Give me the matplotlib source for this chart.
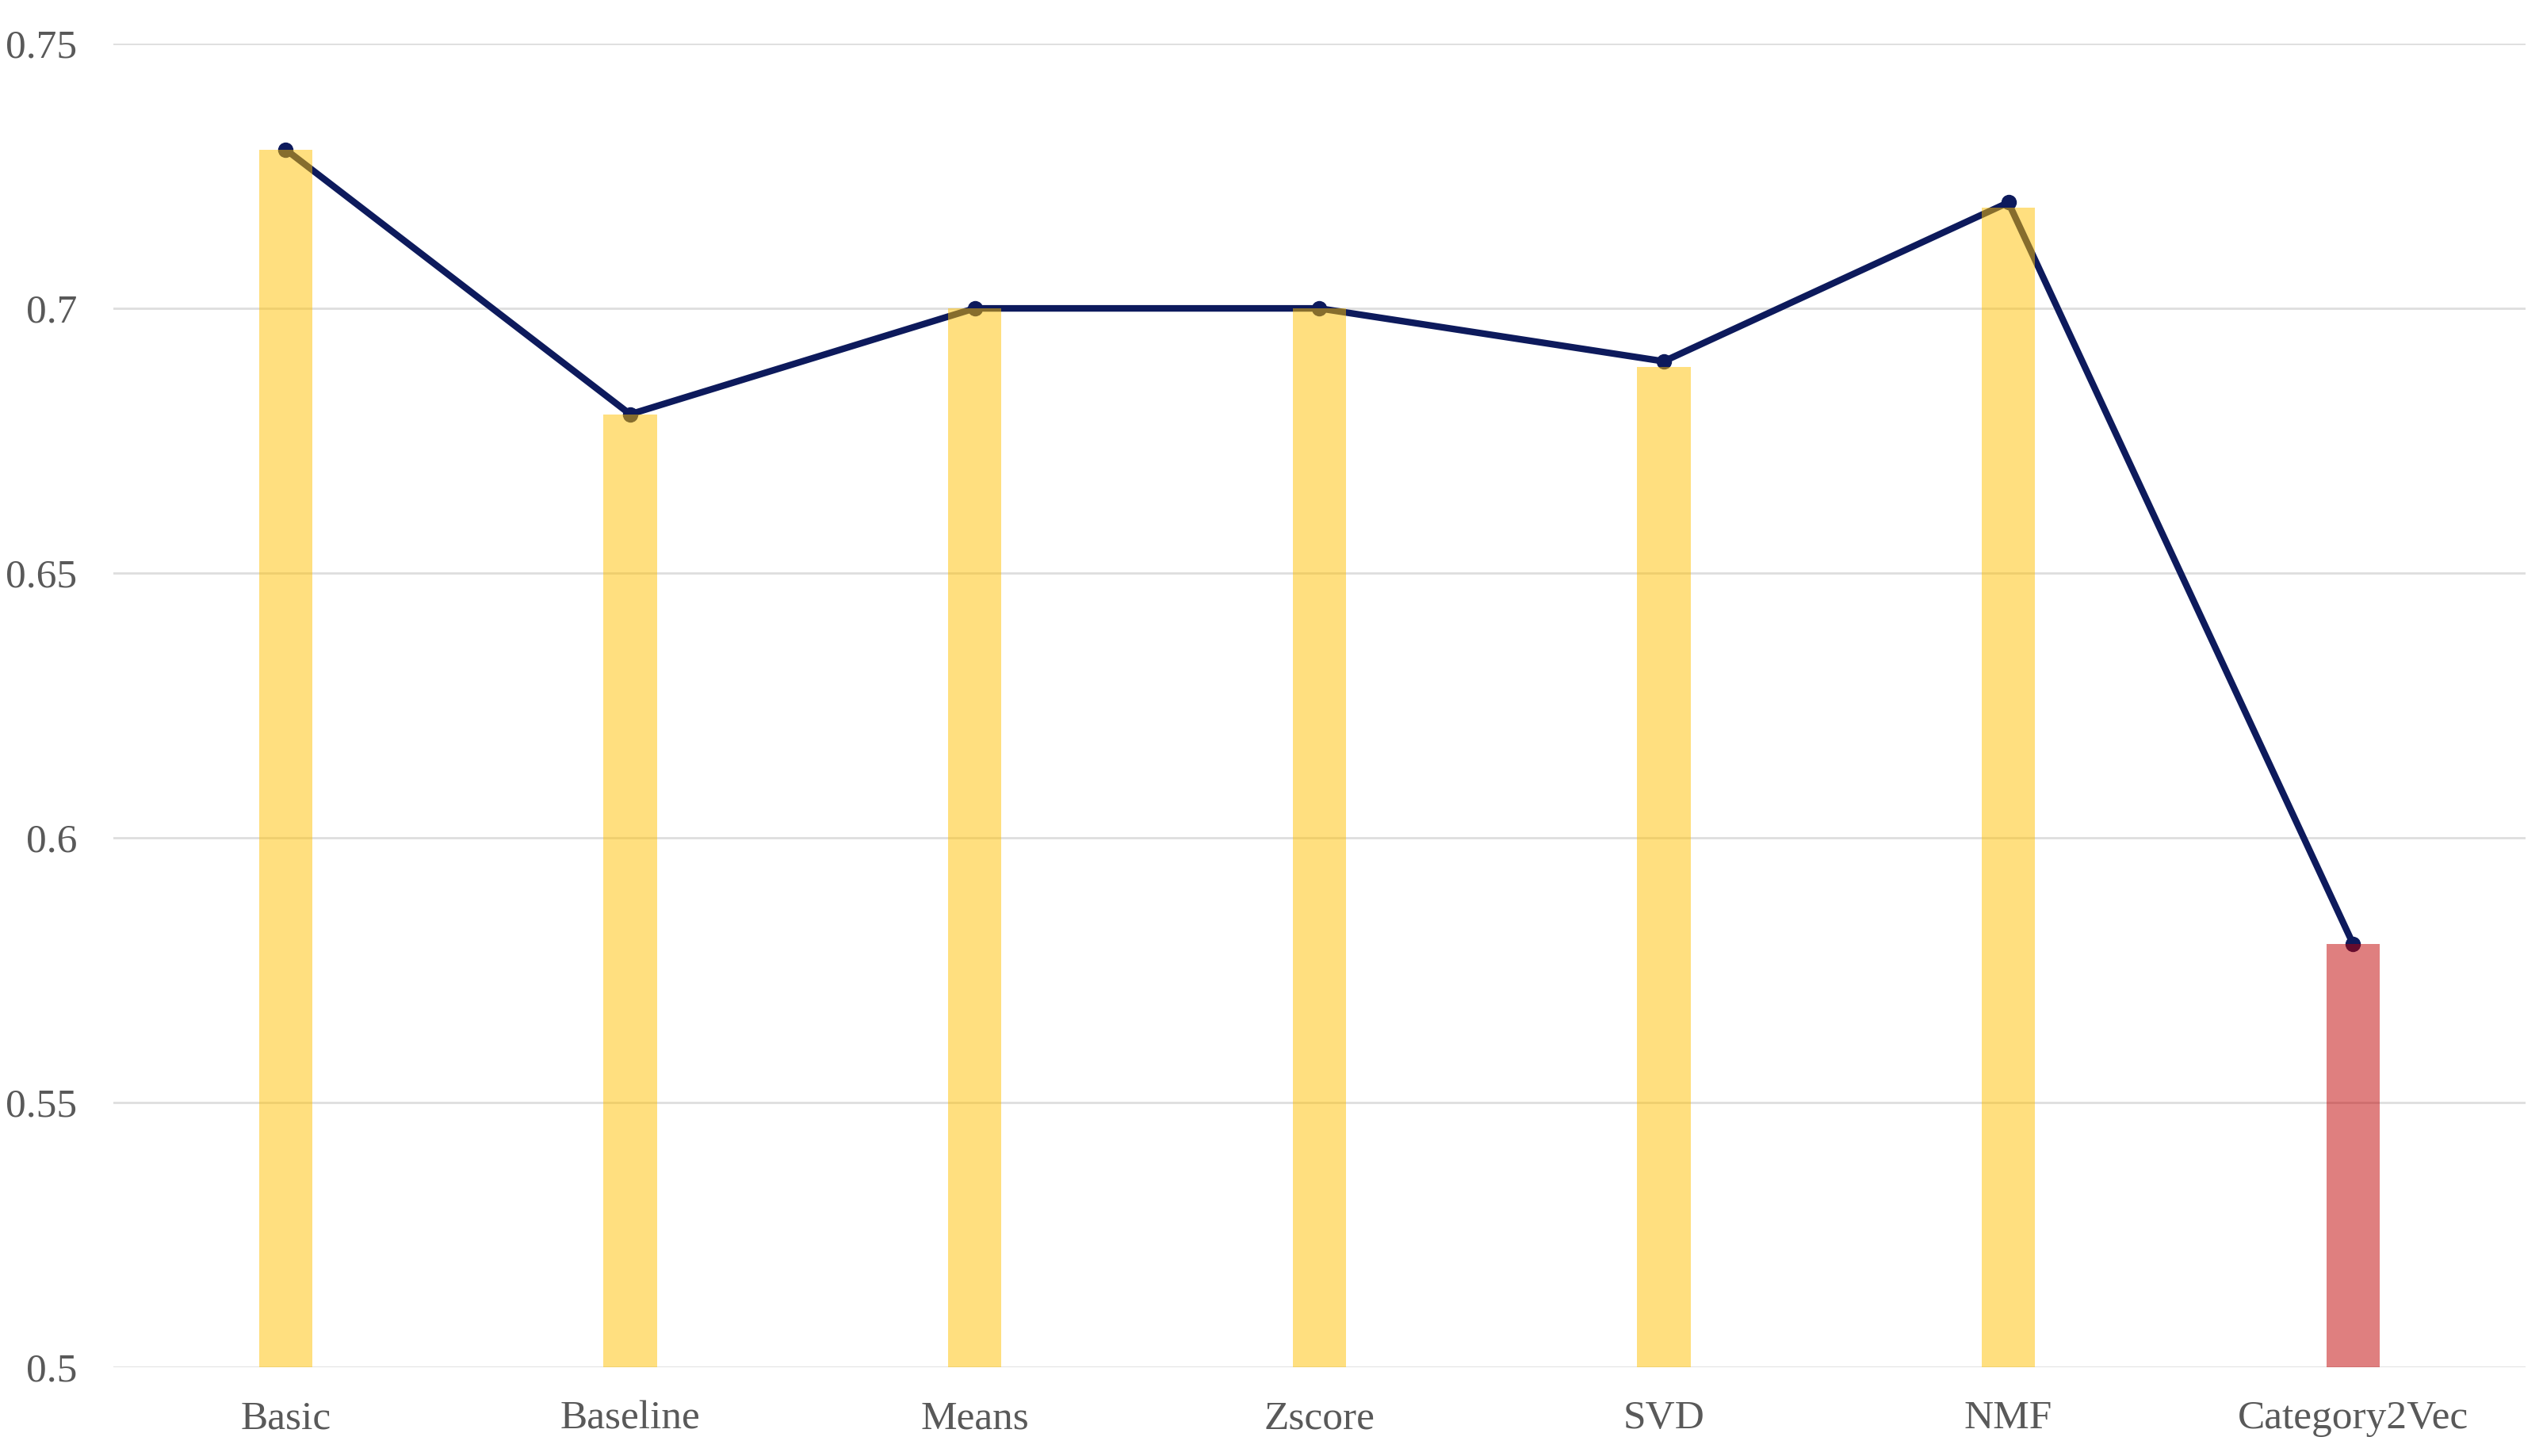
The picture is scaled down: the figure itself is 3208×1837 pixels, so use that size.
import matplotlib
matplotlib.use("Agg")
import matplotlib.pyplot as plt

categories = ["Basic", "Baseline", "Means", "Zscore", "SVD", "NMF", "Category2Vec"]
bar_values = [0.73, 0.68, 0.70, 0.70, 0.689, 0.719, 0.58]
line_values = [0.73, 0.68, 0.70, 0.70, 0.69, 0.72, 0.58]
bar_colors = ["#FFC000"] * 6 + ["#C00000"]
yticks = [0.5, 0.55, 0.6, 0.65, 0.7, 0.75]
ytick_labels = ["0.5", "0.55", "0.6", "0.65", "0.7", "0.75"]

plt.rcParams["font.family"] = ["Liberation Serif", "DejaVu Serif"]

fig = plt.figure(figsize=(32.08, 18.37), dpi=100)
ax = fig.add_axes([0.0446, 0.061, 0.9484, 0.909])

x = list(range(len(categories)))
ax.plot(x, line_values, color="#0D1A5C", lw=6, marker="o", markersize=13,
        zorder=3, solid_capstyle="round")
ax.bar(x, bar_values, width=0.155, color=bar_colors, alpha=0.5, zorder=4,
       linewidth=0)

ax.set_xlim(-0.5, len(categories) - 0.5)
ax.set_ylim(0.5, 0.75)
ax.set_yticks(yticks)
ax.set_yticklabels(ytick_labels)
ax.set_xticks(x)
ax.set_xticklabels(categories)
ax.tick_params(axis="both", length=0, labelsize=37, labelcolor="#595959")
ax.tick_params(axis="y", pad=33)
ax.tick_params(axis="x", pad=30)
ax.yaxis.grid(True, color="#DEDEDE", lw=2, zorder=0)
ax.set_axisbelow(True)
for s in ax.spines.values():
    s.set_visible(False)

fig.savefig("out.png", dpi=100, facecolor="white")
